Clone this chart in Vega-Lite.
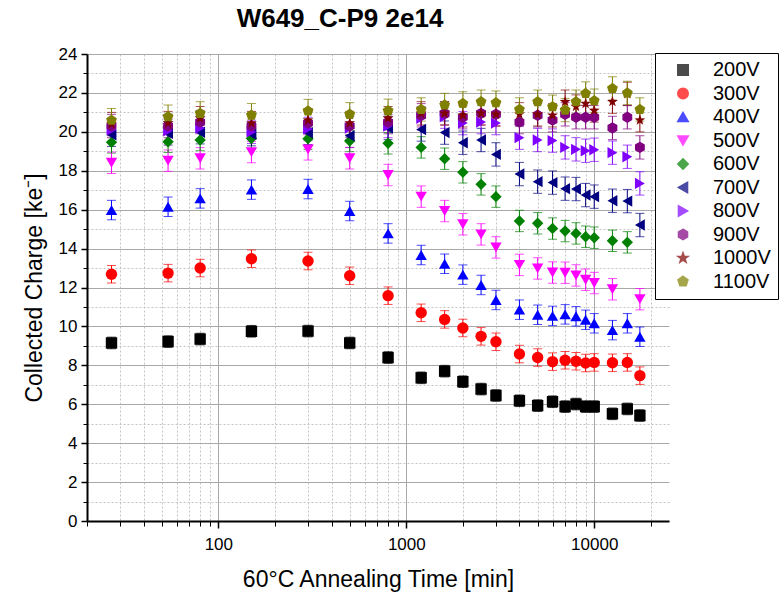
{
"$schema": "https://vega.github.io/schema/vega-lite/v6.json",
"width": 582,
"height": 467,
"autosize": {"type": "none"},
"padding": {"left": 87, "top": 54, "right": 113, "bottom": 76},
"config": {"font": "Liberation Sans", "view": {"stroke": null}},
"title": {"text": "W649_C-P9 2e14", "fontSize": 26, "fontWeight": "bold", "anchor": "middle", "dx": -38, "offset": 13, "color": "black", "font": "Liberation Sans"},
"data": {"values": [
{"s":"200V","t":27,"q":9.15,"e":0.3},{"s":"200V","t":54,"q":9.22,"e":0.3},{"s":"200V","t":80,"q":9.35,"e":0.3},{"s":"200V","t":150,"q":9.75,"e":0.3},{"s":"200V","t":300,"q":9.76,"e":0.3},{"s":"200V","t":500,"q":9.15,"e":0.3},{"s":"200V","t":800,"q":8.4,"e":0.3},{"s":"200V","t":1200,"q":7.36,"e":0.3},{"s":"200V","t":1600,"q":7.7,"e":0.3},{"s":"200V","t":2000,"q":7.16,"e":0.3},{"s":"200V","t":2500,"q":6.78,"e":0.3},{"s":"200V","t":3000,"q":6.45,"e":0.3},{"s":"200V","t":4000,"q":6.18,"e":0.3},{"s":"200V","t":5000,"q":5.93,"e":0.3},{"s":"200V","t":6000,"q":6.13,"e":0.3},{"s":"200V","t":7000,"q":5.88,"e":0.3},{"s":"200V","t":8000,"q":6.01,"e":0.3},{"s":"200V","t":9000,"q":5.88,"e":0.3},{"s":"200V","t":10000,"q":5.88,"e":0.3},{"s":"200V","t":12500,"q":5.51,"e":0.3},{"s":"200V","t":15000,"q":5.76,"e":0.3},{"s":"200V","t":17500,"q":5.42,"e":0.3},
{"s":"300V","t":27,"q":12.68,"e":0.45},{"s":"300V","t":54,"q":12.74,"e":0.45},{"s":"300V","t":80,"q":13.0,"e":0.45},{"s":"300V","t":150,"q":13.48,"e":0.45},{"s":"300V","t":300,"q":13.36,"e":0.45},{"s":"300V","t":500,"q":12.6,"e":0.45},{"s":"300V","t":800,"q":11.58,"e":0.45},{"s":"300V","t":1200,"q":10.7,"e":0.45},{"s":"300V","t":1600,"q":10.36,"e":0.45},{"s":"300V","t":2000,"q":9.92,"e":0.45},{"s":"300V","t":2500,"q":9.49,"e":0.45},{"s":"300V","t":3000,"q":9.21,"e":0.45},{"s":"300V","t":4000,"q":8.58,"e":0.45},{"s":"300V","t":5000,"q":8.4,"e":0.45},{"s":"300V","t":6000,"q":8.19,"e":0.45},{"s":"300V","t":7000,"q":8.26,"e":0.45},{"s":"300V","t":8000,"q":8.21,"e":0.45},{"s":"300V","t":9000,"q":8.12,"e":0.45},{"s":"300V","t":10000,"q":8.15,"e":0.45},{"s":"300V","t":12500,"q":8.13,"e":0.45},{"s":"300V","t":15000,"q":8.15,"e":0.45},{"s":"300V","t":17500,"q":7.47,"e":0.45},
{"s":"400V","t":27,"q":15.98,"e":0.5},{"s":"400V","t":54,"q":16.15,"e":0.5},{"s":"400V","t":80,"q":16.58,"e":0.5},{"s":"400V","t":150,"q":17.03,"e":0.5},{"s":"400V","t":300,"q":17.06,"e":0.5},{"s":"400V","t":500,"q":15.93,"e":0.5},{"s":"400V","t":800,"q":14.78,"e":0.5},{"s":"400V","t":1200,"q":13.67,"e":0.5},{"s":"400V","t":1600,"q":13.22,"e":0.5},{"s":"400V","t":2000,"q":12.66,"e":0.5},{"s":"400V","t":2500,"q":12.13,"e":0.5},{"s":"400V","t":3000,"q":11.36,"e":0.5},{"s":"400V","t":4000,"q":10.86,"e":0.5},{"s":"400V","t":5000,"q":10.6,"e":0.5},{"s":"400V","t":6000,"q":10.54,"e":0.5},{"s":"400V","t":7000,"q":10.62,"e":0.5},{"s":"400V","t":8000,"q":10.52,"e":0.5},{"s":"400V","t":9000,"q":10.34,"e":0.5},{"s":"400V","t":10000,"q":10.16,"e":0.5},{"s":"400V","t":12500,"q":9.81,"e":0.5},{"s":"400V","t":15000,"q":10.16,"e":0.5},{"s":"400V","t":17500,"q":9.47,"e":0.5},
{"s":"500V","t":27,"q":18.41,"e":0.55},{"s":"500V","t":54,"q":18.52,"e":0.55},{"s":"500V","t":80,"q":18.64,"e":0.55},{"s":"500V","t":150,"q":18.96,"e":0.55},{"s":"500V","t":300,"q":19.1,"e":0.55},{"s":"500V","t":500,"q":18.64,"e":0.55},{"s":"500V","t":800,"q":17.78,"e":0.55},{"s":"500V","t":1200,"q":16.67,"e":0.55},{"s":"500V","t":1600,"q":15.93,"e":0.55},{"s":"500V","t":2000,"q":15.25,"e":0.55},{"s":"500V","t":2500,"q":14.73,"e":0.55},{"s":"500V","t":3000,"q":14.06,"e":0.55},{"s":"500V","t":4000,"q":13.16,"e":0.55},{"s":"500V","t":5000,"q":12.98,"e":0.55},{"s":"500V","t":6000,"q":12.77,"e":0.55},{"s":"500V","t":7000,"q":12.76,"e":0.55},{"s":"500V","t":8000,"q":12.62,"e":0.55},{"s":"500V","t":9000,"q":12.4,"e":0.55},{"s":"500V","t":10000,"q":12.23,"e":0.55},{"s":"500V","t":12500,"q":11.91,"e":0.55},{"s":"500V","t":17500,"q":11.4,"e":0.55},
{"s":"600V","t":27,"q":19.46,"e":0.55},{"s":"600V","t":54,"q":19.49,"e":0.55},{"s":"600V","t":80,"q":19.58,"e":0.55},{"s":"600V","t":150,"q":19.66,"e":0.55},{"s":"600V","t":300,"q":19.65,"e":0.55},{"s":"600V","t":500,"q":19.53,"e":0.55},{"s":"600V","t":800,"q":19.41,"e":0.55},{"s":"600V","t":1200,"q":19.2,"e":0.55},{"s":"600V","t":1600,"q":18.62,"e":0.55},{"s":"600V","t":2000,"q":17.92,"e":0.55},{"s":"600V","t":2500,"q":17.3,"e":0.55},{"s":"600V","t":3000,"q":16.67,"e":0.55},{"s":"600V","t":4000,"q":15.42,"e":0.55},{"s":"600V","t":5000,"q":15.3,"e":0.55},{"s":"600V","t":6000,"q":15.03,"e":0.55},{"s":"600V","t":7000,"q":14.9,"e":0.55},{"s":"600V","t":8000,"q":14.78,"e":0.55},{"s":"600V","t":9000,"q":14.61,"e":0.55},{"s":"600V","t":10000,"q":14.56,"e":0.55},{"s":"600V","t":12500,"q":14.4,"e":0.55},{"s":"600V","t":15000,"q":14.32,"e":0.55},
{"s":"700V","t":27,"q":19.85,"e":0.6},{"s":"700V","t":54,"q":19.92,"e":0.6},{"s":"700V","t":80,"q":19.98,"e":0.6},{"s":"700V","t":150,"q":19.88,"e":0.6},{"s":"700V","t":300,"q":19.95,"e":0.6},{"s":"700V","t":500,"q":19.8,"e":0.6},{"s":"700V","t":800,"q":20.2,"e":0.6},{"s":"700V","t":1200,"q":20.12,"e":0.6},{"s":"700V","t":1600,"q":19.96,"e":0.6},{"s":"700V","t":2000,"q":19.44,"e":0.6},{"s":"700V","t":2500,"q":19.58,"e":0.6},{"s":"700V","t":3000,"q":18.84,"e":0.6},{"s":"700V","t":4000,"q":17.83,"e":0.6},{"s":"700V","t":5000,"q":17.44,"e":0.6},{"s":"700V","t":6000,"q":17.39,"e":0.6},{"s":"700V","t":7000,"q":17.08,"e":0.6},{"s":"700V","t":8000,"q":17.06,"e":0.6},{"s":"700V","t":9000,"q":16.75,"e":0.6},{"s":"700V","t":10000,"q":16.67,"e":0.6},{"s":"700V","t":12500,"q":16.46,"e":0.6},{"s":"700V","t":15000,"q":16.44,"e":0.6},{"s":"700V","t":17500,"q":15.21,"e":0.6},
{"s":"800V","t":27,"q":20.1,"e":0.6},{"s":"800V","t":54,"q":20.05,"e":0.6},{"s":"800V","t":80,"q":20.2,"e":0.6},{"s":"800V","t":150,"q":20.0,"e":0.6},{"s":"800V","t":300,"q":20.15,"e":0.6},{"s":"800V","t":500,"q":20.2,"e":0.6},{"s":"800V","t":800,"q":20.3,"e":0.6},{"s":"800V","t":1200,"q":20.7,"e":0.6},{"s":"800V","t":1600,"q":20.78,"e":0.6},{"s":"800V","t":2000,"q":20.45,"e":0.6},{"s":"800V","t":2500,"q":20.5,"e":0.6},{"s":"800V","t":3000,"q":20.45,"e":0.6},{"s":"800V","t":4000,"q":19.7,"e":0.6},{"s":"800V","t":5000,"q":19.58,"e":0.6},{"s":"800V","t":6000,"q":19.55,"e":0.6},{"s":"800V","t":7000,"q":19.2,"e":0.6},{"s":"800V","t":8000,"q":19.1,"e":0.6},{"s":"800V","t":9000,"q":19.03,"e":0.6},{"s":"800V","t":10000,"q":19.08,"e":0.6},{"s":"800V","t":12500,"q":18.93,"e":0.6},{"s":"800V","t":15000,"q":18.72,"e":0.6},{"s":"800V","t":17500,"q":17.35,"e":0.6},
{"s":"900V","t":27,"q":20.3,"e":0.6},{"s":"900V","t":54,"q":20.3,"e":0.6},{"s":"900V","t":80,"q":20.5,"e":0.6},{"s":"900V","t":150,"q":20.3,"e":0.6},{"s":"900V","t":300,"q":20.45,"e":0.6},{"s":"900V","t":500,"q":20.3,"e":0.6},{"s":"900V","t":800,"q":20.5,"e":0.6},{"s":"900V","t":1200,"q":20.85,"e":0.6},{"s":"900V","t":1600,"q":20.95,"e":0.6},{"s":"900V","t":2000,"q":20.75,"e":0.6},{"s":"900V","t":2500,"q":20.95,"e":0.6},{"s":"900V","t":3000,"q":20.9,"e":0.6},{"s":"900V","t":4000,"q":20.5,"e":0.6},{"s":"900V","t":5000,"q":20.85,"e":0.6},{"s":"900V","t":6000,"q":20.6,"e":0.6},{"s":"900V","t":7000,"q":20.9,"e":0.6},{"s":"900V","t":8000,"q":20.75,"e":0.6},{"s":"900V","t":9000,"q":20.75,"e":0.6},{"s":"900V","t":10000,"q":20.75,"e":0.6},{"s":"900V","t":12500,"q":20.2,"e":0.6},{"s":"900V","t":15000,"q":20.75,"e":0.6},{"s":"900V","t":17500,"q":19.2,"e":0.6},
{"s":"1000V","t":27,"q":20.4,"e":0.6},{"s":"1000V","t":54,"q":20.45,"e":0.6},{"s":"1000V","t":80,"q":20.7,"e":0.6},{"s":"1000V","t":150,"q":20.45,"e":0.6},{"s":"1000V","t":300,"q":20.6,"e":0.6},{"s":"1000V","t":500,"q":20.45,"e":0.6},{"s":"1000V","t":800,"q":20.7,"e":0.6},{"s":"1000V","t":1200,"q":20.95,"e":0.6},{"s":"1000V","t":1600,"q":20.95,"e":0.6},{"s":"1000V","t":2000,"q":20.85,"e":0.6},{"s":"1000V","t":2500,"q":20.95,"e":0.6},{"s":"1000V","t":3000,"q":20.9,"e":0.6},{"s":"1000V","t":4000,"q":20.9,"e":0.6},{"s":"1000V","t":5000,"q":20.9,"e":0.6},{"s":"1000V","t":6000,"q":20.85,"e":0.6},{"s":"1000V","t":7000,"q":21.55,"e":0.6},{"s":"1000V","t":8000,"q":21.3,"e":0.6},{"s":"1000V","t":9000,"q":21.45,"e":0.6},{"s":"1000V","t":10000,"q":21.1,"e":0.6},{"s":"1000V","t":12500,"q":21.55,"e":0.6},{"s":"1000V","t":15000,"q":21.95,"e":0.6},{"s":"1000V","t":17500,"q":20.6,"e":0.6},
{"s":"1100V","t":27,"q":20.6,"e":0.6},{"s":"1100V","t":54,"q":20.78,"e":0.6},{"s":"1100V","t":80,"q":20.95,"e":0.6},{"s":"1100V","t":150,"q":20.86,"e":0.6},{"s":"1100V","t":300,"q":21.07,"e":0.6},{"s":"1100V","t":500,"q":20.9,"e":0.6},{"s":"1100V","t":800,"q":21.08,"e":0.6},{"s":"1100V","t":1200,"q":21.15,"e":0.6},{"s":"1100V","t":1600,"q":21.38,"e":0.6},{"s":"1100V","t":2000,"q":21.46,"e":0.6},{"s":"1100V","t":2500,"q":21.55,"e":0.6},{"s":"1100V","t":3000,"q":21.5,"e":0.6},{"s":"1100V","t":4000,"q":21.15,"e":0.6},{"s":"1100V","t":5000,"q":21.55,"e":0.6},{"s":"1100V","t":6000,"q":21.29,"e":0.6},{"s":"1100V","t":7000,"q":21.12,"e":0.6},{"s":"1100V","t":8000,"q":21.55,"e":0.6},{"s":"1100V","t":9000,"q":21.97,"e":0.6},{"s":"1100V","t":10000,"q":21.6,"e":0.6},{"s":"1100V","t":12500,"q":22.23,"e":0.6},{"s":"1100V","t":15000,"q":22.0,"e":0.6},{"s":"1100V","t":17500,"q":21.15,"e":0.6}
]},
"layer": [
{
"mark": {"type": "errorbar", "ticks": {"size": 9, "thickness": 1}, "thickness": 1},
"encoding": {
"x": {"field": "t", "type": "quantitative", "scale": {"type": "log", "domain": [20, 25000], "nice": false},
"axis": {"orient": "bottom", "values": [20,30,40,50,60,70,80,90,200,300,400,500,600,700,800,900,2000,3000,4000,5000,6000,7000,8000,9000,20000], "labels": false, "grid": true, "gridDash": [2, 2], "gridColor": "#c4c4c4", "gridWidth": 1, "domain": false, "ticks": true, "tickSize": 5, "tickColor": "black", "tickWidth": 1, "title": null}},
"y": {"field": "q", "type": "quantitative", "scale": {"domain": [0, 24], "nice": false, "zero": false},
"axis": {"orient": "left", "values": [1,3,5,7,9,11,13,15,17,19,21,23], "labels": false, "grid": true, "gridDash": [2, 2], "gridColor": "#c4c4c4", "gridWidth": 1, "domain": false, "ticks": true, "tickSize": 4, "tickColor": "black", "tickWidth": 1, "title": null}},
"yError": {"field": "e"},
"color": {"field": "s", "type": "nominal",
"scale": {"domain": ["200V","300V","400V","500V","600V","700V","800V","900V","1000V","1100V"], "range": ["#000000","#ff0000","#0000ff","#ff00ff","#008000","#000080","#8000ff","#800080","#800000","#808000"]}}
}
},
{
"mark": {"type": "point", "filled": true, "opacity": 1, "size": 130},
"encoding": {
"x": {"field": "t", "type": "quantitative", "scale": {"type": "log", "domain": [20, 25000], "nice": false},
"axis": {"orient": "bottom", "values": [100, 1000, 10000], "format": "d", "grid": true, "gridColor": "#a8a8a8", "gridWidth": 1, "domain": true, "domainColor": "black", "domainWidth": 2, "ticks": true, "tickSize": 7, "tickColor": "black", "tickWidth": 1.5, "labelFontSize": 17, "labelColor": "black", "labelPadding": 8, "title": "60°C Annealing Time [min]", "titleFontSize": 23, "titleFontWeight": "normal", "titleColor": "black", "titlePadding": 16}},
"y": {"field": "q", "type": "quantitative", "scale": {"domain": [0, 24], "nice": false, "zero": false},
"axis": {"orient": "left", "values": [0,2,4,6,8,10,12,14,16,18,20,22,24], "grid": true, "gridColor": "#a8a8a8", "gridWidth": 1, "domain": true, "domainColor": "black", "domainWidth": 2, "ticks": true, "tickSize": 6, "tickColor": "black", "tickWidth": 1.5, "labelFontSize": 17, "labelColor": "black", "labelPadding": 4, "title": "Collected Charge [ke⁻]", "titleFontSize": 23, "titleFontWeight": "normal", "titleColor": "black", "titlePadding": 12}},
"color": {"field": "s", "type": "nominal",
"scale": {"domain": ["200V","300V","400V","500V","600V","700V","800V","900V","1000V","1100V"], "range": ["#000000","#ff0000","#0000ff","#ff00ff","#008000","#000080","#8000ff","#800080","#800000","#808000"]},
"legend": {"orient": "none", "legendX": 568, "legendY": -1, "title": null, "strokeColor": "black", "fillColor": "white", "padding": 7, "labelFontSize": 20, "labelColor": "black", "symbolSize": 110, "symbolOpacity": 1, "rowPadding": 3.5, "symbolOffset": 11, "labelOffset": 20, "labelLimit": 200}},
"shape": {"field": "s", "type": "nominal",
"scale": {"domain": ["200V","300V","400V","500V","600V","700V","800V","900V","1000V","1100V"], "range": ["square","circle","triangle-up","triangle-down","diamond","triangle-left","triangle-right","M0,-1L0.866,-0.5L0.866,0.5L0,1L-0.866,0.5L-0.866,-0.5Z","M0,-1L0.235,-0.324L0.951,-0.309L0.38,0.124L0.588,0.809L0,0.4L-0.588,0.809L-0.38,0.124L-0.951,-0.309L-0.235,-0.324Z","M0,-1L0.951,-0.309L0.588,0.809L-0.588,0.809L-0.951,-0.309Z"]},
"legend": {"orient": "none", "legendX": 568, "legendY": -1, "title": null, "strokeColor": "black", "fillColor": "white", "padding": 7, "labelFontSize": 20, "labelColor": "black", "symbolSize": 110, "symbolOpacity": 1, "rowPadding": 3.5, "symbolOffset": 11, "labelOffset": 20, "labelLimit": 200}}
}
}
],
"resolve": {"axis": {"x": "independent", "y": "independent"}}
}
